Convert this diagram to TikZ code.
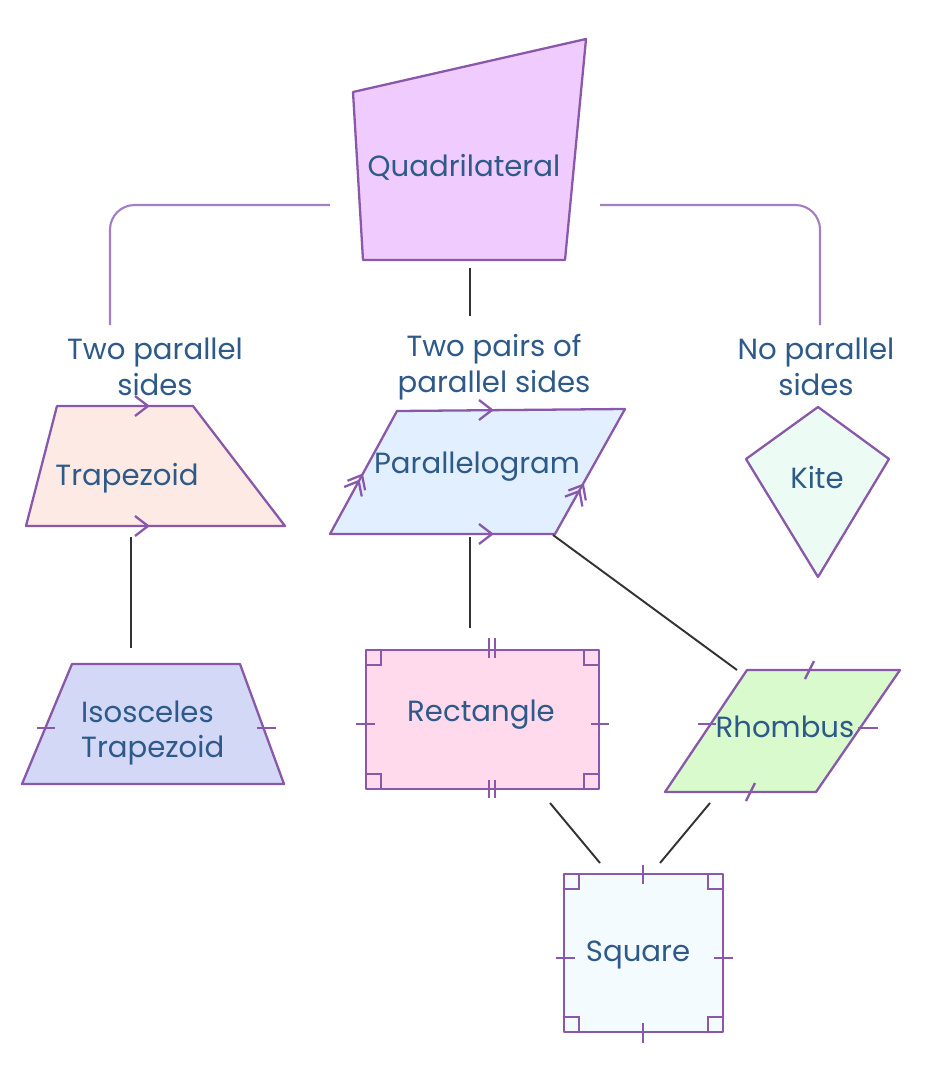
\documentclass[tikz,border=0pt]{standalone}
\usepackage{fontspec}
\setmainfont{Poppins}
\definecolor{edge}{HTML}{8A58AA}
\definecolor{arm}{HTML}{A47EC2}
\definecolor{ink}{HTML}{2E5A8A}
\definecolor{quadfill}{HTML}{EFCCFD}
\definecolor{trapfill}{HTML}{FDEAE4}
\definecolor{parafill}{HTML}{E2EFFE}
\definecolor{kitefill}{HTML}{ECFCF4}
\definecolor{isofill}{HTML}{D2D8F6}
\definecolor{rectfill}{HTML}{FFDAEC}
\definecolor{rhombfill}{HTML}{D8FACC}
\definecolor{sqfill}{HTML}{F3FBFF}
\tikzset{
  shp/.style={draw=edge,line width=0.65pt,line join=round},
  tk/.style={draw=edge,line width=0.65pt},
  lbl/.style={text=ink,font=\fontsize{8.3}{10.2}\selectfont,align=center,inner sep=1pt},
  link/.style={draw=black!80,line width=0.55pt},
  armlink/.style={draw=arm,line width=0.6pt,rounded corners=7pt},
  chev/.pic={\draw[tk] (-13,-10) -- (0,0) -- (-13,10);},
  dchev/.pic={\draw[tk] (-12,-10) -- (0,0) -- (-12,10);
              \draw[tk] (-19,-10) -- (-7,0) -- (-19,10);}
}
\begin{document}
\begin{tikzpicture}[x=0.1mm,y=-0.1mm]
\useasboundingbox[fill=white] (0,0) rectangle (950,1070);

% quadrilateral
\filldraw[shp,fill=quadfill] (353,92) -- (586,39) -- (565,260) -- (363,260) -- cycle;
\node[lbl] (quad) at (464,167) {Quadrilateral};
\coordinate (quad-w) at (330,205);
\coordinate (quad-e) at (600,205);
\coordinate (quad-s) at (470,268);

% branch labels
\node[lbl] (twopar) at (155,367) {Two parallel\\sides};
\node[lbl] (twopairs) at (494,367) {Two pairs of\\parallel sides};
\node[lbl] (nopar) at (816,367) {No parallel\\sides};
\coordinate (arm-l) at (110,325);
\coordinate (arm-m) at (470,316);
\coordinate (arm-r) at (820,325);

\draw[armlink] (quad-w) -| (arm-l);
\draw[armlink] (quad-e) -| (arm-r);
\draw[link] (quad-s) -- (arm-m);

% trapezoid
\filldraw[shp,fill=trapfill] (57,406) -- (193,406) -- (285,526) -- (26,526) -- cycle;
\node[lbl] (trap) at (127,478) {Trapezoid};
\pic at (148,406) {chev};
\pic at (148,526) {chev};
\coordinate (trap-s) at (131,537);

% parallelogram
\filldraw[shp,fill=parafill] (397,411) -- (625,409) -- (555,534) -- (330,534) -- cycle;
\node[lbl] (para) at (477,467) {Parallelogram};
\pic at (492,410) {chev};
\pic at (492,534) {chev};
\pic[rotate=61.6] at (362,475) {dchev};
\pic[rotate=60.5] at (583,485) {dchev};
\coordinate (para-s) at (470,537);
\coordinate (para-se) at (553,535);

% kite
\filldraw[shp,fill=kitefill] (818,407) -- (889,459) -- (818,577) -- (746,459) -- cycle;
\node[lbl] (kite) at (817,478) {Kite};

% isosceles trapezoid
\filldraw[shp,fill=isofill] (72,664) -- (240,664) -- (284,784) -- (22,784) -- cycle;
\node[lbl,align=left,anchor=west] (iso) at (77,733) {Isosceles\\Trapezoid};
\draw[tk] (37,728) -- (55,728);
\draw[tk] (257,728) -- (276,728);
\coordinate (iso-n) at (131,648);

% rectangle
\filldraw[shp,fill=rectfill] (366,650) rectangle (599,789);
\node[lbl] (rect) at (481,715) {Rectangle};
\foreach \x in {489,495} {
  \draw[tk] (\x,638) -- (\x,658);
  \draw[tk] (\x,780) -- (\x,798);
}
\draw[tk] (356,724) -- (375,724);
\draw[tk] (591,724) -- (609,724);
\foreach \x/\y/\dx/\dy in {366/650/15/15,599/650/-15/15,366/789/15/-15,599/789/-15/-15}
  \draw[tk] ({\x},{\y+\dy}) -| ({\x+\dx},{\y});
\coordinate (rect-n) at (470,628);
\coordinate (rect-s) at (550,803);

% rhombus
\filldraw[shp,fill=rhombfill] (747,670) -- (900,670) -- (816,792) -- (665,792) -- cycle;
\node[lbl] (rhomb) at (785,727) {Rhombus};
\draw[tk] (805,679) -- (814,661);
\draw[tk] (746,801) -- (755,783);
\draw[tk] (698,724) -- (716,724);
\draw[tk] (858,728) -- (878,728);
\coordinate (rhomb-nw) at (737,670);
\coordinate (rhomb-s) at (710,803);

% square
\filldraw[shp,fill=sqfill] (564,874) rectangle (723,1032);
\node[lbl] (sq) at (638,955) {Square};
\draw[tk] (643,865) -- (643,884);
\draw[tk] (643,1023) -- (643,1043);
\draw[tk] (556,958) -- (575,958);
\draw[tk] (714,958) -- (733,958);
\foreach \x/\y/\dx/\dy in {564/874/15/15,723/874/-15/15,564/1032/15/-15,723/1032/-15/-15}
  \draw[tk] ({\x},{\y+\dy}) -| ({\x+\dx},{\y});
\coordinate (sq-nw) at (600,863);
\coordinate (sq-ne) at (660,863);

% links
\draw[link] (trap-s) -- (iso-n);
\draw[link] (para-s) -- (rect-n);
\draw[link] (para-se) -- (rhomb-nw);
\draw[link] (rect-s) -- (sq-nw);
\draw[link] (rhomb-s) -- (sq-ne);
\end{tikzpicture}
\end{document}
